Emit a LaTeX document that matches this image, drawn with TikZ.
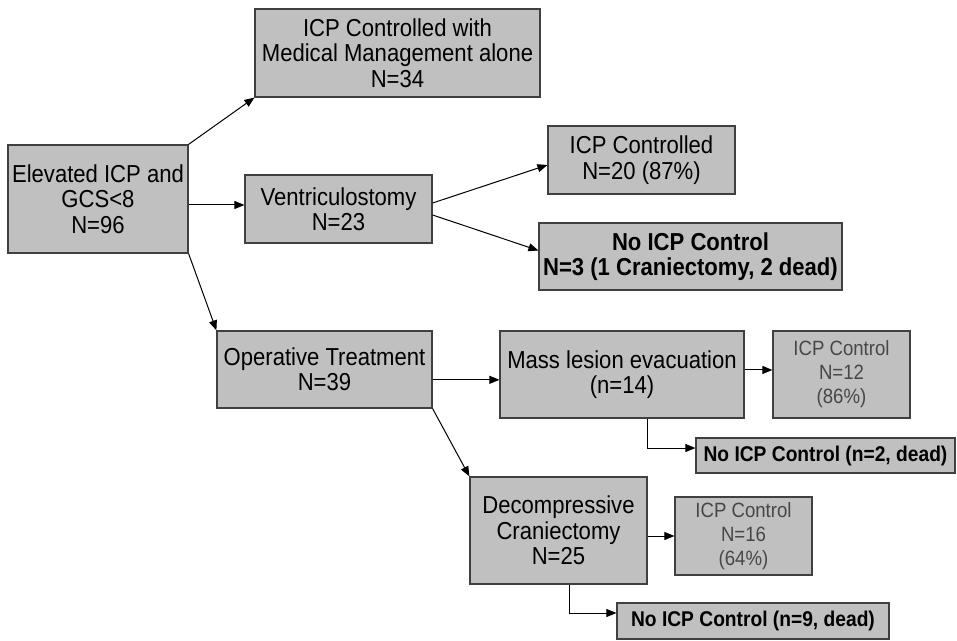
\documentclass[tikz,border=0pt]{standalone}
\usepackage{fontspec}
\setmainfont{Liberation Sans}[FakeStretch=0.9]
\usetikzlibrary{arrows.meta,positioning,calc}
\definecolor{cinza}{RGB}{192,192,192}
\definecolor{borda}{RGB}{64,64,64}
\tikzset{
  caixa/.style={rectangle,draw=borda,line width=0.9pt,fill=cinza,align=center,inner sep=1pt,
    font=\fontsize{18.4}{19}\selectfont},
  caixaN/.style={caixa,font=\fontsize{18.4}{19}\selectfont\bfseries},
  caixaP/.style={caixa,font=\fontsize{16}{17}\selectfont\bfseries},
  caixaC/.style={caixa,text=black!72,font=\fontsize{15.5}{18}\selectfont},
  tam/.style 2 args={minimum width=#1*0.75pt,minimum height=#2*0.75pt},
  seta/.style={-{Triangle[length=7.5pt,width=6pt]},line width=0.75pt,black},
}

\begin{document}
\begin{tikzpicture}[x=0.75pt,y=-0.75pt]
\useasboundingbox[fill=white] (0,0) rectangle (957,641);
% origem
\node[caixa,tam={180}{108}] (elev) at (98,199) {Elevated ICP and\\GCS<8\\N=96};
\node[caixa,tam={285}{88}] (med) at (397.5,53) {ICP Controlled with\\Medical Management alone\\N=34};
\draw[seta] (elev.north east) -- (med.south west);
% ramo ventriculostomia
\node[caixa,tam={187}{68}] (vent) at (338.5,209) {Ventriculostomy\\N=23};
\node[caixa,tam={187}{68}] (ctrl) at (641.5,160) {ICP Controlled\\N=20 (87\%)};
\node[caixaN,tam={303}{67}] (semctrl) at (690.5,256.5) {No ICP Control\\N=3 (1 Craniectomy, 2 dead)};
\draw[seta] ([yshift=3pt]vent.west -| elev.east) -- ([yshift=3pt]vent.west);
\draw[seta] ([yshift=4.5pt]vent.east) -- ([yshift=-3.75pt]ctrl.west);
\draw[seta] ([yshift=-4.5pt]vent.east) -- ([yshift=4.5pt]semctrl.west);
% ramo operatorio
\node[caixa,tam={215}{77}] (oper) at (324.5,369.5) {Operative Treatment\\N=39};
\node[caixa,tam={244}{87}] (massa) at (622,374.5) {Mass lesion evacuation\\(n=14)};
\node[caixaC,tam={137}{87}] (ctrlA) at (841.5,374.5) {ICP Control\\N=12\\(86\%)};
\node[caixaP,tam={259}{35}] (semA) at (825.5,455.5) {No ICP Control (n=2, dead)};
\node[caixa,tam={177}{107}] (decomp) at (558.5,530.5) {Decompressive\\Craniectomy\\N=25};
\node[caixaC,tam={137}{78}] (ctrlB) at (743.5,536) {ICP Control\\N=16\\(64\%)};
\node[caixaP,tam={272}{36}] (semB) at (753,621) {No ICP Control (n=9, dead)};
\draw[seta] (elev.south east) -- (oper.north west);
\draw[seta] ([yshift=-4pt]massa.west -| oper.east) -- ([yshift=-4pt]massa.west);
\draw[seta] (oper.south east) -- (decomp.north west);
\draw[seta] ([yshift=3.4pt]massa.east) -- ([yshift=3.4pt]ctrlA.west);
\draw[seta] ([xshift=18.75pt]massa.south) |- ([yshift=5.6pt]semA.west);
\draw[seta] (decomp.east |- ctrlB.west) -- (ctrlB.west);
\draw[seta] ([xshift=7.9pt]decomp.south) |- ([yshift=6pt]semB.west);
\end{tikzpicture}
\end{document}
